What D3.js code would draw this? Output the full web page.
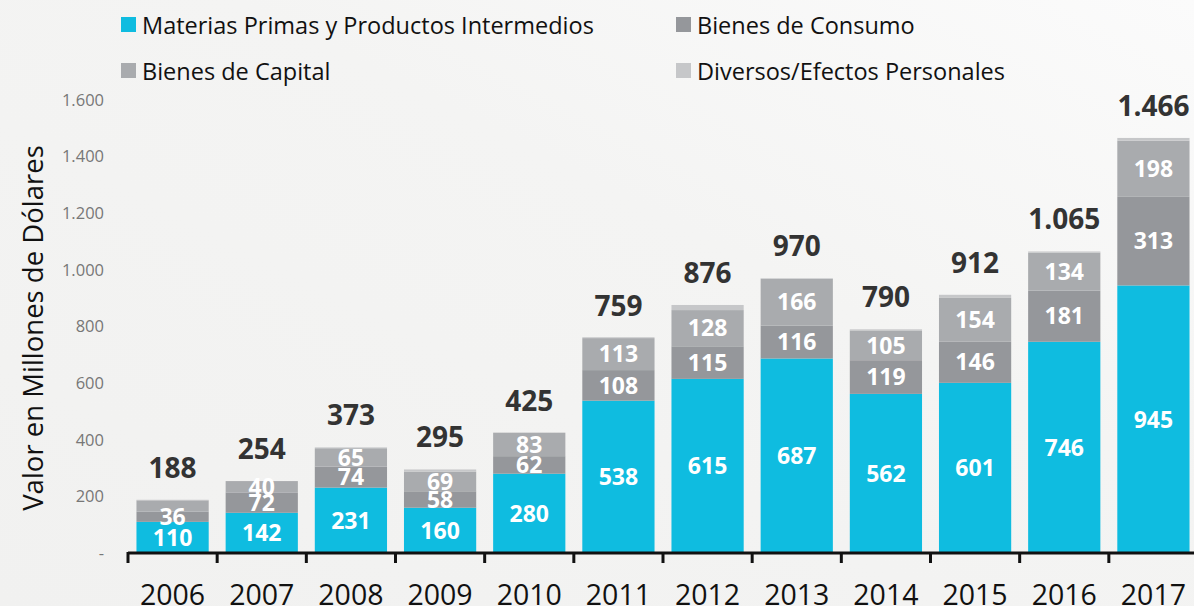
<!DOCTYPE html>
<html>
<head>
  <meta charset="utf-8">
  <title>Importaciones por categoría</title>
<style>
  body { margin: 0; background: #f4f4f3; }
  svg { display: block; font-family: "Open Sans", "Noto Sans", sans-serif; }
  .legend text { font-size: 23.5px; fill: #111; }
  .ytick { font-size: 16.5px; fill: #777; text-anchor: end; }
  .ytitle { font-size: 27.5px; fill: #111; text-anchor: middle; }
  .year { font-size: 28.5px; fill: #111; text-anchor: middle; }
  .seg { font-size: 23px; font-weight: bold; fill: #fff; text-anchor: middle; }
  .total { font-size: 28px; font-weight: bold; fill: #333; text-anchor: middle; }
</style>
</head>
<body>
<svg width="1194" height="606"></svg>
<script src="https://d3js.org/d3.v7.min.js"></script>
<script>

// Data (millones de dólares)
var years = ["2006", "2007", "2008", "2009", "2010", "2011", "2012", "2013", "2014", "2015", "2016", "2017"];
var materias = [110, 142, 231, 160, 280, 538, 615, 687, 562, 601, 746, 945];
var consumo  = [36, 72, 74, 58, 62, 108, 115, 116, 119, 146, 181, 313];
var capital  = [40, 40, 65, 69, 83, 113, 128, 166, 105, 154, 134, 198];
var diversos = [2, 0, 3, 8, 0, 3, 18, 1, 4, 11, 4, 10];
var totals   = [188, 254, 373, 295, 425, 759, 876, 970, 790, 912, 1065, 1466];
var yTicks   = [0, 200, 400, 600, 800, 1000, 1200, 1400, 1600];
// segment labels that the original leaves out
var hiddenLabels = ["2006-capital"];

var series = [
  { key: "materias", name: "Materias Primas y Productos Intermedios", values: materias, color: "#0fbce0", label: true },
  { key: "consumo",  name: "Bienes de Consumo",  values: consumo,  color: "#95979b", label: true },
  { key: "capital",  name: "Bienes de Capital",  values: capital,  color: "#a9abae", label: true },
  { key: "diversos", name: "Diversos/Efectos Personales", values: diversos, color: "#c6c7c9", label: false }
];

var svg = d3.select("svg"),
    width = +svg.attr("width"),
    height = +svg.attr("height");

// soft background gradient
var defs = svg.append("defs");
var grad = defs.append("linearGradient").attr("id", "bg")
    .attr("x1", "0").attr("y1", "1").attr("x2", "1").attr("y2", "0");
grad.append("stop").attr("offset", "0").attr("stop-color", "#f1f1f0");
grad.append("stop").attr("offset", "0.6").attr("stop-color", "#f4f4f3");
grad.append("stop").attr("offset", "1").attr("stop-color", "#fbfbfb");
svg.append("rect").attr("width", width).attr("height", height).attr("fill", "url(#bg)");

var fmt = d3.formatLocale({ decimal: ",", thousands: ".", grouping: [3], currency: ["$", ""] }).format(",d");

var x = d3.scaleBand()
    .domain(years)
    .range([128, 1198])
    .paddingInner(0.19)
    .paddingOuter(0.095);

var y = d3.scaleLinear()
    .domain([0, 1600])
    .range([553, 100]);

// stack
var table = years.map(function (yr, i) {
  var row = { year: yr };
  series.forEach(function (s) { row[s.key] = s.values[i]; });
  return row;
});
var stacked = d3.stack().keys(series.map(function (s) { return s.key; }))(table);

var layers = svg.append("g").selectAll("g")
  .data(stacked)
  .enter().append("g")
    .attr("fill", function (d, i) { return series[i].color; });

layers.selectAll("rect")
  .data(function (d) { return d; })
  .enter().append("rect")
    .attr("x", function (d) { return x(d.data.year); })
    .attr("width", x.bandwidth())
    .attr("y", function (d) { return y(d[1]); })
    .attr("height", function (d) { return y(d[0]) - y(d[1]); });

// segment labels
stacked.forEach(function (layer, i) {
  if (!series[i].label) return;
  svg.append("g").selectAll("text")
    .data(layer.filter(function (d) {
      return hiddenLabels.indexOf(d.data.year + "-" + series[i].key) < 0;
    }))
    .enter().append("text")
      .attr("class", "seg")
      .attr("x", function (d) { return x(d.data.year) + x.bandwidth() / 2; })
      .attr("y", function (d) { return (y(d[0]) + y(d[1])) / 2; })
      .attr("dy", "0.36em")
      .text(function (d) { return d[1] - d[0]; });
});

// totals
svg.append("g").selectAll("text")
  .data(years)
  .enter().append("text")
    .attr("class", "total")
    .attr("x", function (d) { return x(d) + x.bandwidth() / 2; })
    .attr("y", function (d, i) { return y(totals[i]) - 22; })
    .text(function (d, i) { return fmt(totals[i]); });

// x axis: baseline, ticks between bars, year labels
var gap = (x.step() - x.bandwidth()) / 2;
var xAxis = svg.append("g").attr("transform", "translate(0," + y(0) + ")");
xAxis.append("line")
    .attr("x1", 128).attr("x2", width)
    .attr("stroke", "#111").attr("stroke-width", 3);
xAxis.selectAll(".tk")
  .data(years)
  .enter().append("line")
    .attr("class", "tk")
    .attr("x1", function (d) { return x(d) - gap; })
    .attr("x2", function (d) { return x(d) - gap; })
    .attr("y1", -1).attr("y2", 10)
    .attr("stroke", "#111").attr("stroke-width", 3);
xAxis.selectAll(".year")
  .data(years)
  .enter().append("text")
    .attr("class", "year")
    .attr("x", function (d) { return x(d) + x.bandwidth() / 2; })
    .attr("y", 52)
    .text(function (d) { return d; });

// y axis labels
svg.append("g").selectAll("text")
  .data(yTicks)
  .enter().append("text")
    .attr("class", "ytick")
    .attr("x", 104)
    .attr("y", function (d) { return y(d); })
    .attr("dy", "0.35em")
    .text(function (d) { return d === 0 ? "-" : fmt(d); });

svg.append("text")
    .attr("class", "ytitle")
    .attr("transform", "translate(43,328) rotate(-90)")
    .text("Valor en Millones de Dólares");

// legend
var legendPos = [[121, 17], [676, 17], [121, 63], [676, 63]];
var legend = svg.append("g").attr("class", "legend");
var item = legend.selectAll("g")
  .data(series)
  .enter().append("g")
    .attr("transform", function (d, i) { return "translate(" + legendPos[i][0] + "," + legendPos[i][1] + ")"; });
item.append("rect")
    .attr("width", 15).attr("height", 15)
    .attr("fill", function (d) { return d.color; });
item.append("text")
    .attr("x", 21).attr("y", 17)
    .text(function (d) { return d.name; });

</script>
</body>
</html>
